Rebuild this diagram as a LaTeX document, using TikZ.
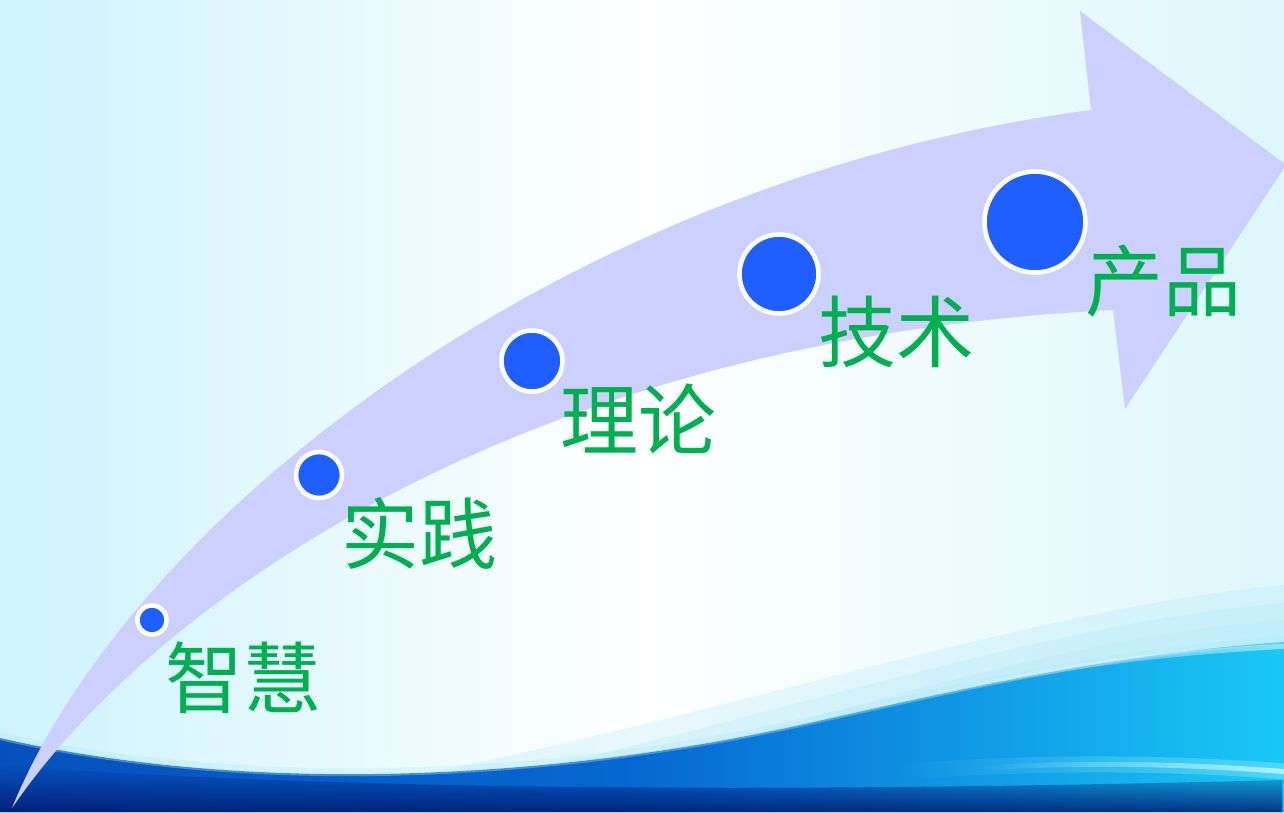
\documentclass[tikz,border=0pt]{standalone}
\usepackage{fontspec}
\newfontfamily\cjk{Noto Sans CJK SC}
\usetikzlibrary{fadings}
\definecolor{bgleft}{HTML}{CDF3FD}
\definecolor{bgright}{HTML}{DDF7FC}
\definecolor{arrowfill}{HTML}{CCD0FF}
\definecolor{dotblue}{HTML}{1F5FFF}
\definecolor{labgreen}{HTML}{00B050}
\definecolor{waveleft}{HTML}{0650BC}
\definecolor{wavemid}{HTML}{0668D2}
\definecolor{waveright}{HTML}{1AC8F6}
\definecolor{wavedark}{HTML}{001A70}
\definecolor{haze}{HTML}{B4EAFA}
\definecolor{streak}{HTML}{8AF0FF}
\tikzfading[name=fadeup, top color=transparent!100, bottom color=transparent!0]
\tikzfading[name=fadein, left color=transparent!100, right color=transparent!0]
\tikzset{
  dot/.style={circle, fill=dotblue, draw=white, line width=4.6pt, inner sep=0pt},
  lab/.style={text=labgreen, inner sep=0pt, font=\cjk\fontsize{78pt}{78pt}\selectfont},
  hazelayer/.style={fill=haze, opacity=0.3}
}
\begin{document}
\begin{tikzpicture}[x=1pt,y=-1pt]
\useasboundingbox (0,0) rectangle (1284,812);
% background
\shade[left color=bgleft, right color=bgright, middle color=white] (0,0) rectangle (1284,812);
% haze above the wave (soft, stacked)
\fill[hazelayer] (200,812) .. controls (600,760) and (1000,610) .. (1284,585) -- (1284,812) -- cycle;
\fill[hazelayer] (300,812) .. controls (650,765) and (1000,625) .. (1284,603) -- (1284,812) -- cycle;
\fill[hazelayer] (400,812) .. controls (700,770) and (1000,640) .. (1284,620) -- (1284,812) -- cycle;
% main wave
\shade[left color=waveleft, right color=waveright, middle color=wavemid]
  (0,738) .. controls (250,795) and (550,780) .. (800,725)
  .. controls (950,692) and (1100,655) .. (1284,642) -- (1284,812) -- (0,812) -- cycle;
% soft upper rim
\draw[haze, line width=8pt, opacity=0.35] (0,736) .. controls (250,793) and (550,778) .. (800,723)
  .. controls (950,690) and (1100,653) .. (1284,640);
% dark bottom
\fill[wavedark, opacity=0.85, path fading=fadeup] (0,765) .. controls (400,795) and (900,790) .. (1284,780) -- (1284,812) -- (0,812) -- cycle;
% highlight streaks
\draw[streak, line width=16pt, opacity=0.45, path fading=fadein] (900,772) .. controls (1050,760) and (1200,764) .. (1290,772);
\draw[white, line width=5pt, opacity=0.6, path fading=fadein] (980,768) .. controls (1100,761) and (1200,765) .. (1290,772);
\draw[white, line width=5pt, opacity=0.5, path fading=fadein] (900,702) .. controls (1000,680) and (1100,656) .. (1290,646);
% arrow band
\fill[arrowfill] (12,808) .. controls (130,520) and (560,180) .. (1091,110)
  -- (1080,11) -- (1286,165) -- (1125,409) -- (1113,310)
  .. controls (500,340) and (140,620) .. (12,808) -- cycle;
% dots
\node[dot, minimum size=29pt]  (d1) at (152,620) {};
\node[dot, minimum size=46pt]  (d2) at (319,475) {};
\node[dot, minimum size=61pt]  (d3) at (532,361) {};
\node[dot, minimum size=79pt]  (d4) at (779,274) {};
\node[dot, minimum size=101pt] (d5) at (1035,222) {};
% labels
\node[lab] (t1) at (243,678) {智慧};
\node[lab] (t2) at (419,533) {实践};
\node[lab] (t3) at (638,419) {理论};
\node[lab] (t4) at (896,332) {技术};
\node[lab] (t5) at (1163,281) {产品};
\end{tikzpicture}
\end{document}
